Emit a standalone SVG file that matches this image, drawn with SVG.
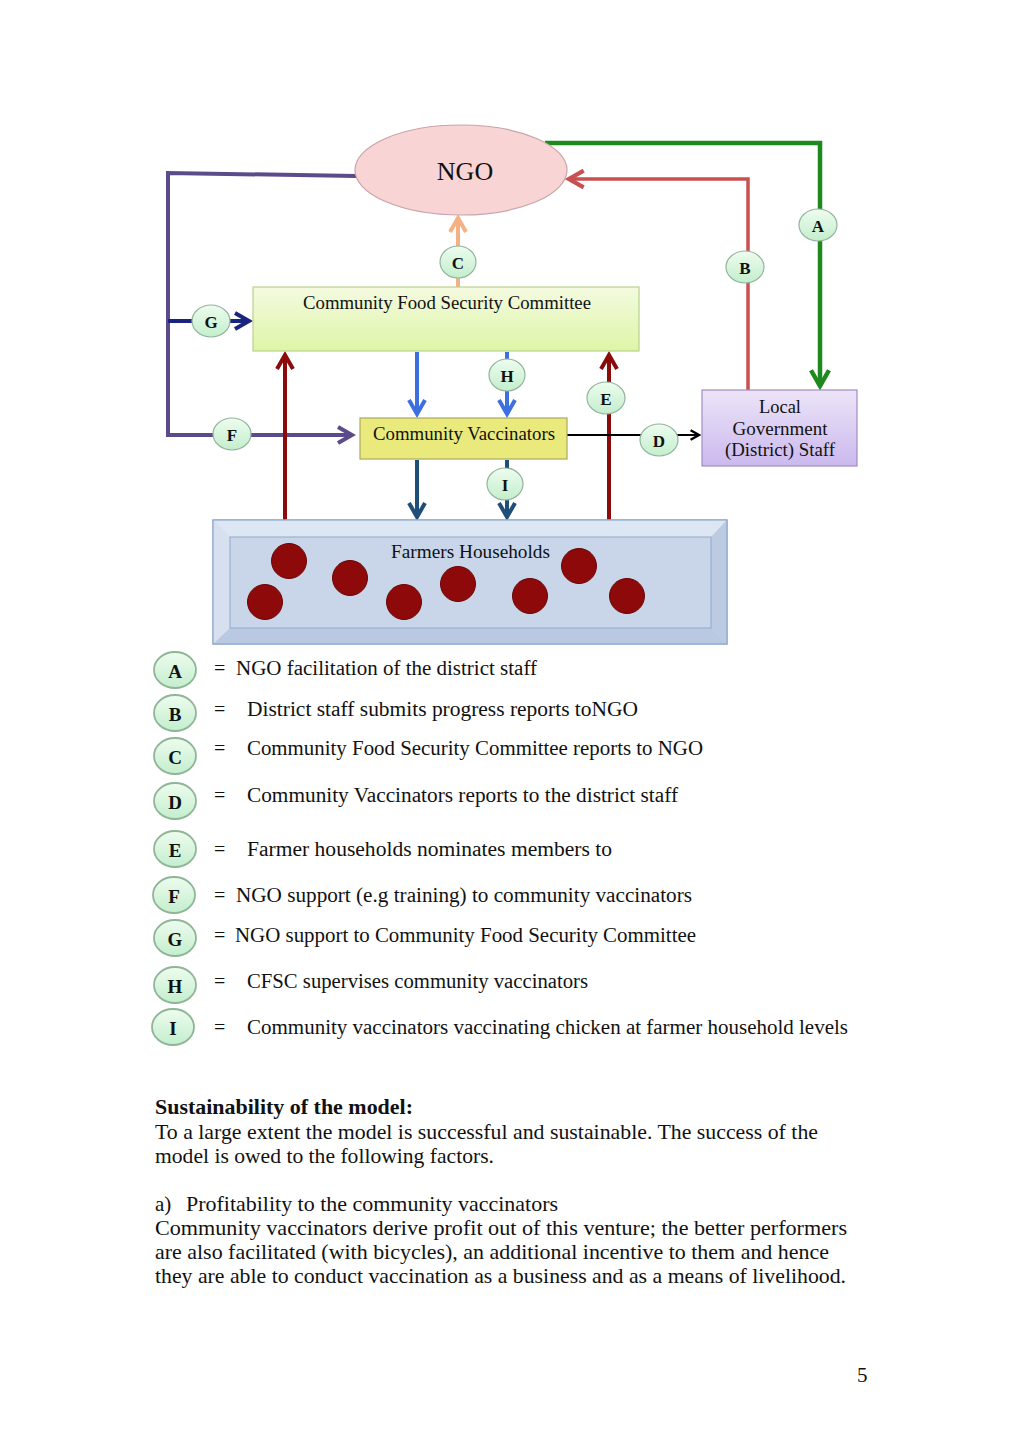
<svg xmlns="http://www.w3.org/2000/svg" width="1024" height="1448" viewBox="0 0 1024 1448">
<style>
.t{font-family:"Liberation Serif","DejaVu Serif",serif;fill:#111}
.lbl{font-family:"Liberation Serif","DejaVu Serif",serif;font-weight:bold;fill:#111;text-anchor:middle}
.c{fill:none;stroke-linecap:butt;stroke-linejoin:miter}
.bub{fill:url(#gBub);stroke:#93b49b;stroke-width:1.2}
.lbub{fill:url(#gBub);stroke:#8fb597;stroke-width:1.8}
.dot{fill:#8e0a0a;stroke:#6a0505;stroke-width:1}
.body{font-family:"Liberation Serif","DejaVu Serif",serif;font-size:21px;fill:#111}
</style>
<defs>
<linearGradient id="gBub" x1="0" y1="0" x2="0" y2="1"><stop offset="0" stop-color="#eefcef"/><stop offset="1" stop-color="#c3eecd"/></linearGradient>
<linearGradient id="gCF" x1="0" y1="0" x2="0" y2="1"><stop offset="0" stop-color="#f4fae0"/><stop offset="1" stop-color="#def5a6"/></linearGradient>
<linearGradient id="gLG" x1="0" y1="0" x2="0" y2="1"><stop offset="0" stop-color="#ece4f8"/><stop offset="1" stop-color="#cbb9ee"/></linearGradient>
<marker id="mPurple" viewBox="0 0 10 10" refX="8" refY="5" markerWidth="5" markerHeight="5" orient="auto" markerUnits="strokeWidth"><path d="M1,1 L8,5 L1,9" fill="none" stroke="#5c4b8a" stroke-width="2"/></marker>
<marker id="mNavy" viewBox="0 0 10 10" refX="8" refY="5" markerWidth="5" markerHeight="5" orient="auto" markerUnits="strokeWidth"><path d="M1,1 L8,5 L1,9" fill="none" stroke="#1a237e" stroke-width="2"/></marker>
<marker id="mGreen" viewBox="0 0 10 10" refX="8" refY="5" markerWidth="5" markerHeight="5" orient="auto" markerUnits="strokeWidth"><path d="M1,1 L8,5 L1,9" fill="none" stroke="#1e8a1e" stroke-width="2"/></marker>
<marker id="mRed" viewBox="0 0 10 10" refX="8" refY="5" markerWidth="6" markerHeight="6" orient="auto" markerUnits="strokeWidth"><path d="M1,1 L8,5 L1,9" fill="none" stroke="#c85050" stroke-width="2"/></marker>
<marker id="mPeach" viewBox="0 0 10 10" refX="8" refY="5" markerWidth="5" markerHeight="5" orient="auto" markerUnits="strokeWidth"><path d="M1,1 L8,5 L1,9" fill="none" stroke="#f4b183" stroke-width="2"/></marker>
<marker id="mBlue" viewBox="0 0 10 10" refX="8" refY="5" markerWidth="5" markerHeight="5" orient="auto" markerUnits="strokeWidth"><path d="M1,1 L8,5 L1,9" fill="none" stroke="#3d6fe0" stroke-width="2"/></marker>
<marker id="mDkBlue" viewBox="0 0 10 10" refX="8" refY="5" markerWidth="5" markerHeight="5" orient="auto" markerUnits="strokeWidth"><path d="M1,1 L8,5 L1,9" fill="none" stroke="#1f4e79" stroke-width="2"/></marker>
<marker id="mDkRed" viewBox="0 0 10 10" refX="8" refY="5" markerWidth="5" markerHeight="5" orient="auto" markerUnits="strokeWidth"><path d="M1,1 L8,5 L1,9" fill="none" stroke="#8b0a0a" stroke-width="2"/></marker>
<marker id="mBlack" viewBox="0 0 10 10" refX="8" refY="5" markerWidth="6" markerHeight="6" orient="auto" markerUnits="strokeWidth"><path d="M1,1 L8,5 L1,9" fill="none" stroke="#000" stroke-width="2"/></marker>
</defs>
<rect width="1024" height="1448" fill="#fff"/>

<g id="connectors">
<path class="c" d="M356,176 L168,173 L168,435 L352,435" stroke="#5c4b8a" stroke-width="4" marker-end="url(#mPurple)"/>
<path class="c" d="M168,321 L249,321" stroke="#1a237e" stroke-width="4" marker-end="url(#mNavy)"/>
<path class="c" d="M545,143 L820,143 L820,386" stroke="#1e8a1e" stroke-width="4.5" marker-end="url(#mGreen)"/>
<path class="c" d="M748,390 L748,179 L569,179" stroke="#c85050" stroke-width="3.5" marker-end="url(#mRed)"/>
<path class="c" d="M458,287 L458,218" stroke="#f4b183" stroke-width="4" marker-end="url(#mPeach)"/>
<path class="c" d="M417,352 L417,414" stroke="#3d6fe0" stroke-width="4" marker-end="url(#mBlue)"/>
<path class="c" d="M507,352 L507,414" stroke="#3d6fe0" stroke-width="4" marker-end="url(#mBlue)"/>
<path class="c" d="M417,460 L417,517" stroke="#1f4e79" stroke-width="4" marker-end="url(#mDkBlue)"/>
<path class="c" d="M507,460 L507,517" stroke="#1f4e79" stroke-width="4" marker-end="url(#mDkBlue)"/>
<path class="c" d="M285,520 L285,355" stroke="#8b0a0a" stroke-width="4" marker-end="url(#mDkRed)"/>
<path class="c" d="M609,520 L609,355" stroke="#8b0a0a" stroke-width="4" marker-end="url(#mDkRed)"/>
<path class="c" d="M567,435 L699,435" stroke="#000" stroke-width="2" marker-end="url(#mBlack)"/>
<g id="conn-labels">
<ellipse class="bub" cx="818" cy="225" rx="19" ry="16"/><text class="lbl" x="818" y="232" font-size="17">A</text>
<ellipse class="bub" cx="745" cy="267" rx="19" ry="16"/><text class="lbl" x="745" y="274" font-size="17">B</text>
<ellipse class="bub" cx="458" cy="262" rx="18" ry="16"/><text class="lbl" x="458" y="269" font-size="17">C</text>
<ellipse class="bub" cx="659" cy="440" rx="19" ry="16"/><text class="lbl" x="659" y="447" font-size="17">D</text>
<ellipse class="bub" cx="606" cy="398" rx="19" ry="16"/><text class="lbl" x="606" y="405" font-size="17">E</text>
<ellipse class="bub" cx="232" cy="434" rx="19" ry="16"/><text class="lbl" x="232" y="441" font-size="17">F</text>
<ellipse class="bub" cx="211" cy="321" rx="19" ry="16"/><text class="lbl" x="211" y="328" font-size="17">G</text>
<ellipse class="bub" cx="507" cy="375" rx="18" ry="16"/><text class="lbl" x="507" y="382" font-size="17">H</text>
<ellipse class="bub" cx="505" cy="484" rx="18" ry="16"/><text class="lbl" x="505" y="491" font-size="17">I</text>
</g>
</g>

<g id="ngo">
<ellipse cx="461" cy="170" rx="106" ry="45" fill="#f9d4d4" stroke="#c9a3a8" stroke-width="1.2"/>
<text class="t" x="465" y="180" font-size="26" text-anchor="middle">NGO</text>
</g>

<g id="cfsc">
<rect x="253" y="287" width="386" height="64" fill="url(#gCF)" stroke="#b9d08e" stroke-width="1.2"/>
<text class="t" x="303" y="309" font-size="18" textLength="288" lengthAdjust="spacingAndGlyphs">Community Food Security Committee</text>
</g>

<g id="vaccinators">
<rect x="360" y="418" width="207" height="41" fill="#eaea7c" stroke="#a9a962" stroke-width="1.2"/>
<text class="t" x="373" y="440" font-size="18" textLength="182" lengthAdjust="spacingAndGlyphs">Community Vaccinators</text>
</g>

<g id="localgov">
<rect x="702" y="390" width="155" height="76" fill="url(#gLG)" stroke="#9e8dc2" stroke-width="1.2"/>
<text class="t" x="780" y="413" font-size="18" text-anchor="middle" textLength="42" lengthAdjust="spacingAndGlyphs">Local</text>
<text class="t" x="780" y="435" font-size="18" text-anchor="middle" textLength="95" lengthAdjust="spacingAndGlyphs">Government</text>
<text class="t" x="780" y="456" font-size="18" text-anchor="middle" textLength="110" lengthAdjust="spacingAndGlyphs">(District) Staff</text>
</g>

<g id="farmers">
<rect x="213" y="520" width="514" height="124" fill="#c9d6ea" stroke="#8fa8cc" stroke-width="1.2"/>
<polygon points="213,520 727,520 711,537 230,537" fill="#dde6f3"/>
<polygon points="213,644 727,644 711,628 230,628" fill="#b9c9e2"/>
<polygon points="213,520 230,537 230,628 213,644" fill="#d6e0ef"/>
<polygon points="727,520 711,537 711,628 727,644" fill="#bccbe2"/>
<rect x="230" y="537" width="481" height="91" fill="#c9d6ea" stroke="#8fa8cc" stroke-width="1"/>
<rect x="213" y="520" width="514" height="124" fill="none" stroke="#8fa8cc" stroke-width="1.2"/>
<text class="t" x="391" y="558" font-size="18" textLength="159" lengthAdjust="spacingAndGlyphs">Farmers Households</text>
<circle class="dot" cx="289" cy="561" r="17.5"/>
<circle class="dot" cx="265" cy="602" r="17.5"/>
<circle class="dot" cx="350" cy="578" r="17.5"/>
<circle class="dot" cx="404" cy="602" r="17.5"/>
<circle class="dot" cx="458" cy="584" r="17.5"/>
<circle class="dot" cx="530" cy="596" r="17.5"/>
<circle class="dot" cx="579" cy="566" r="17.5"/>
<circle class="dot" cx="627" cy="596" r="17.5"/>
</g>

<g id="legend">
<ellipse class="lbub" cx="175" cy="670" rx="21" ry="18"/><text class="lbl" x="175" y="678" font-size="19">A</text>
<text class="t" x="214" y="675" font-size="20">=</text>
<text class="t" x="236" y="675" font-size="20" textLength="301" lengthAdjust="spacingAndGlyphs">NGO facilitation of the district staff</text>

<ellipse class="lbub" cx="175" cy="713" rx="21" ry="18"/><text class="lbl" x="175" y="721" font-size="19">B</text>
<text class="t" x="214" y="716" font-size="20">=</text>
<text class="t" x="247" y="716" font-size="20" textLength="391" lengthAdjust="spacingAndGlyphs">District staff submits progress reports toNGO</text>

<ellipse class="lbub" cx="175" cy="756" rx="21" ry="18"/><text class="lbl" x="175" y="764" font-size="19">C</text>
<text class="t" x="214" y="755" font-size="20">=</text>
<text class="t" x="247" y="755" font-size="20" textLength="456" lengthAdjust="spacingAndGlyphs">Community Food Security Committee reports to NGO</text>

<ellipse class="lbub" cx="175" cy="801" rx="21" ry="18"/><text class="lbl" x="175" y="809" font-size="19">D</text>
<text class="t" x="214" y="802" font-size="20">=</text>
<text class="t" x="247" y="802" font-size="20" textLength="431" lengthAdjust="spacingAndGlyphs">Community Vaccinators reports to the district staff</text>

<ellipse class="lbub" cx="175" cy="849" rx="21" ry="18"/><text class="lbl" x="175" y="857" font-size="19">E</text>
<text class="t" x="214" y="856" font-size="20">=</text>
<text class="t" x="247" y="856" font-size="20" textLength="365" lengthAdjust="spacingAndGlyphs">Farmer households nominates members to</text>

<ellipse class="lbub" cx="174" cy="895" rx="21" ry="18"/><text class="lbl" x="174" y="903" font-size="19">F</text>
<text class="t" x="214" y="902" font-size="20">=</text>
<text class="t" x="236" y="902" font-size="20" textLength="456" lengthAdjust="spacingAndGlyphs">NGO support (e.g training) to community vaccinators</text>

<ellipse class="lbub" cx="175" cy="938" rx="21" ry="18"/><text class="lbl" x="175" y="946" font-size="19">G</text>
<text class="t" x="214" y="942" font-size="20">=</text>
<text class="t" x="235" y="942" font-size="20" textLength="461" lengthAdjust="spacingAndGlyphs">NGO support to Community Food Security Committee</text>

<ellipse class="lbub" cx="175" cy="985" rx="21" ry="18"/><text class="lbl" x="175" y="993" font-size="19">H</text>
<text class="t" x="214" y="988" font-size="20">=</text>
<text class="t" x="247" y="988" font-size="20" textLength="341" lengthAdjust="spacingAndGlyphs">CFSC supervises community vaccinators</text>

<ellipse class="lbub" cx="173" cy="1027" rx="21" ry="18"/><text class="lbl" x="173" y="1035" font-size="19">I</text>
<text class="t" x="214" y="1034" font-size="20">=</text>
<text class="t" x="247" y="1034" font-size="20" textLength="601" lengthAdjust="spacingAndGlyphs">Community vaccinators vaccinating chicken at farmer household levels</text>
</g>

<g id="body-text">
<text class="body" x="155" y="1114" font-weight="bold" textLength="258" lengthAdjust="spacingAndGlyphs">Sustainability of the model:</text>
<text class="body" x="155" y="1139" textLength="663" lengthAdjust="spacingAndGlyphs">To a large extent the model is successful and sustainable. The success of the</text>
<text class="body" x="155" y="1163" textLength="339" lengthAdjust="spacingAndGlyphs">model is owed to the following factors.</text>
<text class="body" x="155" y="1211">a)</text>
<text class="body" x="186" y="1211" textLength="372" lengthAdjust="spacingAndGlyphs">Profitability to the community vaccinators</text>
<text class="body" x="155" y="1235" textLength="692" lengthAdjust="spacingAndGlyphs">Community vaccinators derive profit out of this venture; the better performers</text>
<text class="body" x="155" y="1259" textLength="674" lengthAdjust="spacingAndGlyphs">are also facilitated (with bicycles), an additional incentive to them and hence</text>
<text class="body" x="155" y="1283" textLength="691" lengthAdjust="spacingAndGlyphs">they are able to conduct vaccination as a business and as a means of livelihood.</text>
<text class="body" x="857" y="1382">5</text>
</g>
</svg>
